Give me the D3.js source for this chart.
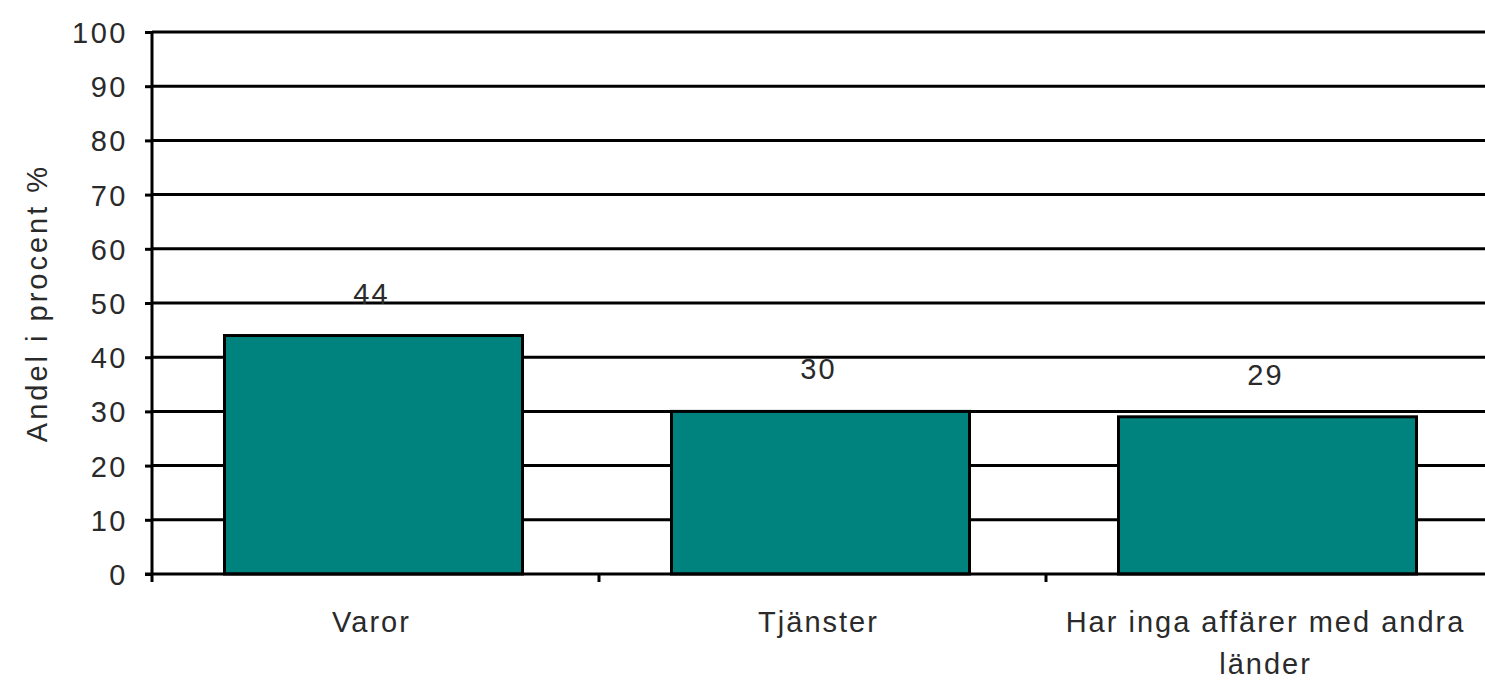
<!DOCTYPE html>
<html>
<head>
<meta charset="utf-8">
<script src="https://cdn.jsdelivr.net/npm/d3@7"></script>
<style>
  body { margin: 0; background: #fff; }
  text { font-family: "Liberation Sans", Arial, sans-serif; fill: #2a2a2a; }
</style>
</head>
<body>
<div id="chart"></div>
<script>
// data
const categories = ["Varor", "Tjänster", "Har inga affärer med andra länder"];
const values = [44, 30, 29];
const yTicks = [0, 10, 20, 30, 40, 50, 60, 70, 80, 90, 100];

const width = 1485, height = 683;
const margin = { top: 32, right: -8, bottom: 109, left: 152 };

const svg = d3.select("#chart")
  .append("svg")
  .attr("width", width)
  .attr("height", height);

const x = d3.scaleBand()
  .domain(categories)
  .range([margin.left, width - margin.right]);

const y = d3.scaleLinear()
  .domain([0, 100])
  .range([height - margin.bottom, margin.top]);

// gridlines
svg.append("g")
  .selectAll("line")
  .data(yTicks.filter(d => d > 0))
  .join("line")
  .attr("x1", margin.left)
  .attr("x2", width)
  .attr("y1", d => y(d))
  .attr("y2", d => y(d))
  .attr("stroke", "#000")
  .attr("stroke-width", 3);

// bars, gap width 50%
const barW = x.bandwidth() / 1.5;
svg.append("g")
  .selectAll("rect")
  .data(values)
  .join("rect")
  .attr("x", (d, i) => x(categories[i]) + (x.bandwidth() - barW) / 2 - 2)
  .attr("y", d => y(d))
  .attr("width", barW)
  .attr("height", d => y(0) - y(d))
  .attr("fill", "#00837f")
  .attr("stroke", "#000")
  .attr("stroke-width", 3);

// value labels
svg.append("g")
  .selectAll("text")
  .data(values)
  .join("text")
  .attr("x", (d, i) => x(categories[i]) + x.bandwidth() / 2 - 4)
  .attr("y", d => y(d) - 32)
  .attr("text-anchor", "middle")
  .style("font-size", "29px")
  .style("letter-spacing", "2px")
  .text(d => d);

// y axis
const yAxis = svg.append("g")
  .attr("transform", `translate(${margin.left},0)`)
  .call(d3.axisLeft(y).tickValues(yTicks).tickSize(7).tickPadding(17));
yAxis.select(".domain").attr("stroke", "#000").attr("stroke-width", 3)
  .attr("d", `M0,${y(0)}V${y(100)}`);
yAxis.selectAll(".tick line").attr("stroke", "#000").attr("stroke-width", 3);
yAxis.selectAll(".tick text")
  .style("font-size", "29px")
  .style("letter-spacing", "2.5px")
  .attr("fill", "#2a2a2a")
  .attr("dy", "0.36em");

// x axis
const xAxis = svg.append("g")
  .attr("transform", `translate(0,${y(0)})`);
xAxis.append("line")
  .attr("x1", margin.left - 7)
  .attr("x2", width)
  .attr("stroke", "#000")
  .attr("stroke-width", 3);
xAxis.selectAll("line.tk")
  .data(categories)
  .join("line")
  .attr("class", "tk")
  .attr("x1", d => x(d))
  .attr("x2", d => x(d))
  .attr("y1", 0)
  .attr("y2", 8)
  .attr("stroke", "#000")
  .attr("stroke-width", 3);

// category labels, wrapped like the original
const labelLines = [["Varor"], ["Tjänster"], ["Har inga affärer med andra", "länder"]];
xAxis.selectAll("text.cat")
  .data(categories)
  .join("text")
  .attr("class", "cat")
  .attr("text-anchor", "middle")
  .style("font-size", "29px")
  .style("letter-spacing", "2px")
  .each(function (d, i) {
    d3.select(this).selectAll("tspan")
      .data(labelLines[i])
      .join("tspan")
      .attr("x", x(d) + x.bandwidth() / 2 - 4)
      .attr("y", (t, j) => 58 + j * 42)
      .text(t => t);
  });

// y axis title
svg.append("text")
  .attr("transform", `translate(47,${(y(0) + y(100)) / 2}) rotate(-90)`)
  .attr("text-anchor", "middle")
  .style("font-size", "29px")
  .style("letter-spacing", "3px")
  .text("Andel i procent %");
</script>
</body>
</html>
